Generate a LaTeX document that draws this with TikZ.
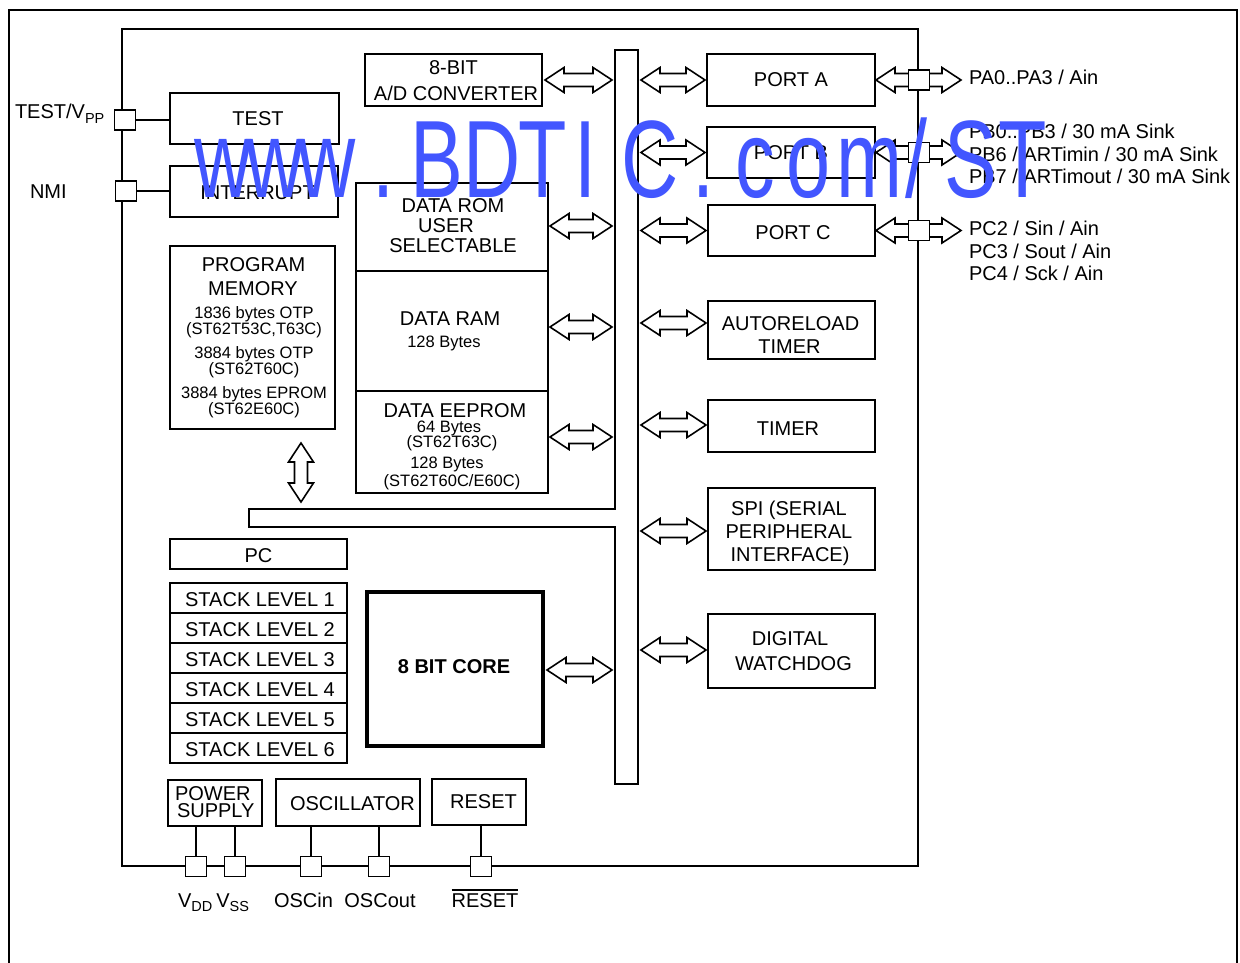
\documentclass[tikz,border=0pt]{standalone}
\usepackage{fontspec}
\setmainfont{Liberation Sans}
\usetikzlibrary{calc}
\definecolor{wmblue}{RGB}{66,86,255}
\newcommand\mainfs{\fontsize{20}{23}\selectfont}
\newcommand\smallfs{\fontsize{16.5}{16.5}\selectfont}
\newcommand\wmfs{\fontsize{110}{110}\selectfont}
\newcommand\subs[1]{\raisebox{-4.5pt}{\fontsize{14.5}{14.5}\selectfont #1}}
\newcommand\ovl[1]{\vbox{\hrule height 1.8pt\kern 2.2pt\hbox{#1}}}
\newcommand\hdarrow[2]{\draw[dar] let \p1=(#1), \p2=(#2) in
 (\x1,\y1) -- (\x1+19pt,\y1+12.5pt) -- (\x1+19pt,\y1+6.5pt) -- (\x2-19pt,\y1+6.5pt) --
 (\x2-19pt,\y1+12.5pt) -- (\x2,\y1) -- (\x2-19pt,\y1-12.5pt) -- (\x2-19pt,\y1-6.5pt) --
 (\x1+19pt,\y1-6.5pt) -- (\x1+19pt,\y1-12.5pt) -- cycle;}
\newcommand\vdarrow[2]{\draw[dar] let \p1=(#1), \p2=(#2) in
 (\x1,\y1) -- (\x1+12.5pt,\y1-19pt) -- (\x1+6.5pt,\y1-19pt) -- (\x1+6.5pt,\y2+19pt) --
 (\x1+12.5pt,\y2+19pt) -- (\x1,\y2) -- (\x1-12.5pt,\y2+19pt) -- (\x1-6.5pt,\y2+19pt) --
 (\x1-6.5pt,\y1-19pt) -- (\x1-12.5pt,\y1-19pt) -- cycle;}
\begin{document}
\begin{tikzpicture}[x=1pt,y=-1pt,
  every node/.style={inner sep=0pt,outer sep=0pt},
  box/.style={draw,line width=1.8pt,anchor=north west},
  thickbox/.style={draw,line width=3.8pt,anchor=north west},
  pinsq/.style={draw,line width=1.8pt,fill=white,minimum width=21,minimum height=20},
  txt/.style={anchor=base,font=\mainfs},
  btxt/.style={anchor=base,font=\mainfs\bfseries},
  stxt/.style={anchor=base,font=\smallfs},
  ltxt/.style={anchor=base west,font=\mainfs},
  dar/.style={draw,line width=1.6pt,fill=white,line join=miter},
  wire/.style={line width=1.8pt},
  wm/.style={anchor=base,text=wmblue,font=\wmfs}]
\useasboundingbox (0,0) rectangle (1240,963);
% outer frame and chip outline
\draw[wire] (9,963) -- (9,10) -- (1237,10) -- (1237,963);
\draw[wire] (122,29) rectangle (918,866);
\coordinate (chipR) at (918,0);
% internal bus
\draw[wire] (615,50) -- (638,50) -- (638,784) -- (615,784) -- (615,527) -- (249,527) -- (249,509) -- (615,509) -- cycle;
\coordinate (busL) at (615,300);
\coordinate (busR) at (638,300);
\coordinate (brT) at (301,509);
% boxes
\node[box,minimum width=169,minimum height=51] (test) at (170,93) {};
\node[box,minimum width=168,minimum height=51] (intr) at (170,166) {};
\node[box,minimum width=177,minimum height=52] (ad) at (365,54) {};
\node[box,minimum width=165,minimum height=183] (pm) at (170,246) {};
\node[box,minimum width=192,minimum height=88] (rom) at (356,183) {};
\node[box,minimum width=192,minimum height=120] (ram) at (356,271) {};
\node[box,minimum width=192,minimum height=102] (eep) at (356,391) {};
\node[box,minimum width=177,minimum height=30] (pc) at (170,539) {};
\foreach \k in {1,...,6}
  \node[box,minimum width=177,minimum height=30] (st\k) at (170,553+30*\k) {};
\node[thickbox,minimum width=176,minimum height=154] (core) at (367,592) {};
\node[box,minimum width=168,minimum height=52] (pa) at (707,54) {};
\node[box,minimum width=168,minimum height=51] (pb) at (707,127) {};
\node[box,minimum width=167,minimum height=51] (pcc) at (708,205) {};
\node[box,minimum width=167,minimum height=58] (ar) at (708,301) {};
\node[box,minimum width=167,minimum height=52] (tim) at (708,400) {};
\node[box,minimum width=167,minimum height=82] (spi) at (708,488) {};
\node[box,minimum width=167,minimum height=74] (wd) at (708,614) {};
\node[box,minimum width=94,minimum height=46] (ps) at (168,780) {};
\node[box,minimum width=144,minimum height=47] (osc) at (276,779) {};
\node[box,minimum width=94,minimum height=46] (rst) at (432,779) {};
% box texts
\node[txt] (t1) at (258,126) {TEST};
\node[txt] (t2) at (257.5,199) {INTERRUPT};
\node[txt] (t3) at (453.5,75) {8-BIT};
\node[txt] (t4) at (456,101) {A/D CONVERTER};
\node[txt] (t5) at (253.5,271) {PROGRAM};
\node[txt] (t6) at (253,295) {MEMORY};
\node[stxt] (t7) at (254,318) {1836 bytes OTP};
\node[stxt] (t8) at (254,334) {(ST62T53C,T63C)};
\node[stxt] (t9) at (254,358) {3884 bytes OTP};
\node[stxt] (t10) at (254,374) {(ST62T60C)};
\node[stxt] (t11) at (254,398) {3884 bytes EPROM};
\node[stxt] (t12) at (254,414) {(ST62E60C)};
\node[txt] (t13) at (453,212) {DATA ROM};
\node[txt] (t14) at (446,232) {USER};
\node[txt] (t15) at (453,252) {SELECTABLE};
\node[txt] (t16) at (450,325) {DATA RAM};
\node[stxt] (t17) at (444,347) {128 Bytes};
\node[txt] (t18) at (455,417) {DATA EEPROM};
\node[stxt] (t19) at (449,432) {64 Bytes};
\node[stxt] (t20) at (452,447) {(ST62T63C)};
\node[stxt] (t21) at (447,468) {128 Bytes};
\node[stxt] (t22) at (452,486) {(ST62T60C/E60C)};
\node[txt] (t23) at (258.5,562) {PC};
\foreach \k in {1,...,6}
  \node[txt] (sl\k) at (260,576+30*\k) {STACK LEVEL \k};
\node[btxt] (t24) at (454,673) {8 BIT CORE};
\node[txt] (t25) at (791,87) {PORT A};
\node[txt] (t26) at (791,160) {PORT B};
\node[txt] (t27) at (793,239) {PORT C};
\node[txt] (t28) at (790.5,330) {AUTORELOAD};
\node[txt] (t29) at (789.5,353) {TIMER};
\node[txt] (t30) at (788,435) {TIMER};
\node[txt] (t31) at (789,515) {SPI (SERIAL};
\node[txt] (t32) at (789,538) {PERIPHERAL};
\node[txt] (t33) at (790,561) {INTERFACE)};
\node[txt] (t34) at (790,645) {DIGITAL};
\node[txt] (t35) at (793.5,670) {WATCHDOG};
\node[ltxt] (t36) at (175,800) {POWER};
\node[ltxt] (t37) at (177,817) {SUPPLY};
\node[txt] (t38) at (352.5,810) {OSCILLATOR};
\node[txt] (t39) at (483.5,808) {RESET};
% bus arrows, left side
\hdarrow{$(ad.east)+(3,0)$}{$(ad.east -| busL)+(-3,0)$}
\hdarrow{$(rom.east)+(2,-1)$}{$(rom.east -| busL)+(-3,-1)$}
\hdarrow{$(ram.east)+(2,-4)$}{$(ram.east -| busL)+(-3,-4)$}
\hdarrow{$(eep.east)+(2,-5)$}{$(eep.east -| busL)+(-3,-5)$}
\hdarrow{$(core.east)+(4,1)$}{$(core.east -| busL)+(-3,1)$}
% bus arrows, right side
\hdarrow{$(pa.west -| busR)+(3,0)$}{$(pa.west)+(-2,0)$}
\hdarrow{$(pb.west -| busR)+(3,0)$}{$(pb.west)+(-2,0)$}
\hdarrow{$(pcc.west -| busR)+(3,0)$}{$(pcc.west)+(-2,0)$}
\hdarrow{$(ar.west -| busR)+(3,-7)$}{$(ar.west)+(-2,-7)$}
\hdarrow{$(tim.west -| busR)+(3,-1)$}{$(tim.west)+(-2,-1)$}
\hdarrow{$(spi.west -| busR)+(3,2)$}{$(spi.west)+(-2,2)$}
\hdarrow{$(wd.west -| busR)+(3,-1)$}{$(wd.west)+(-2,-1)$}
% program memory to bus
\vdarrow{$(pm.south -| brT)+(0,14)$}{$(brT)+(0,-7)$}
% port pins
\hdarrow{$(pa.east)+(1,0)$}{$(pa.east -| chipR)+(43,0)$}
\hdarrow{$(pb.east)+(1,0)$}{$(pb.east -| chipR)+(43,0)$}
\hdarrow{$(pcc.east)+(1,0)$}{$(pcc.east -| chipR)+(43,0)$}
\node[pinsq] (ppa) at ($(pa.east -| chipR)+(1,0)$) {};
\node[pinsq] (ppb) at ($(pb.east -| chipR)+(1,0)$) {};
\node[pinsq] (ppc) at ($(pcc.east -| chipR)+(1,0)$) {};
\node[ltxt] (la) at (969,85) {PA0..PA3 / Ain};
\node[ltxt] (lb1) at (969,139) {PB0..PB3 / 30 mA Sink};
\node[ltxt] (lb2) at (969,161) {PB6 / ARTimin / 30 mA Sink};
\node[ltxt] (lb3) at (969,183) {PB7 / ARTimout / 30 mA Sink};
\node[ltxt] (lc1) at (969,235) {PC2 / Sin / Ain};
\node[ltxt] (lc2) at (969,258) {PC3 / Sout / Ain};
\node[ltxt] (lc3) at (969,280) {PC4 / Sck / Ain};
% left pins
\node[pinsq] (pvpp) at (125,120) {};
\node[pinsq] (pnmi) at (126,191) {};
\draw[wire] (pvpp.east) -- (pvpp.east -| test.west);
\draw[wire] (pnmi.east) -- (pnmi.east -| intr.west);
\node[ltxt] (lvpp) at (15,119) {TEST/V\subs{PP}};
\node[ltxt] (lnmi) at (30,198) {NMI};
% bottom pins
\node[pinsq] (pvdd) at (196,866.5) {};
\node[pinsq] (pvss) at (235,866.5) {};
\node[pinsq] (poi) at (311,866.5) {};
\node[pinsq] (poo) at (379,866.5) {};
\node[pinsq] (prs) at (481,866.5) {};
\draw[wire] (pvdd.north) -- (pvdd.north |- ps.south);
\draw[wire] (pvss.north) -- (pvss.north |- ps.south);
\draw[wire] (poi.north) -- (poi.north |- osc.south);
\draw[wire] (poo.north) -- (poo.north |- osc.south);
\draw[wire] (prs.north) -- (prs.north |- rst.south);
\node[ltxt] (lvdd) at (178,907) {V\subs{DD}\hspace{4pt}V\subs{SS}};
\node[txt] (loi) at (303.5,907) {OSCin};
\node[txt] (loo) at (380,907) {OSCout};
\node[txt] (lrs) at (485,907) {\ovl{RESET}};
% watermark
\foreach \x/\c [count=\i] in {223/w,275/w,327/w,383/.,437/B,492/D,543/T,585/I,650/C,703/.,755/c,809/o,869/m,916/\slash,971/S,1023/T}
  \node[wm] (wm\i) at (\x,197) {\scalebox{0.72}[1]{\c}};
\end{tikzpicture}
\end{document}
